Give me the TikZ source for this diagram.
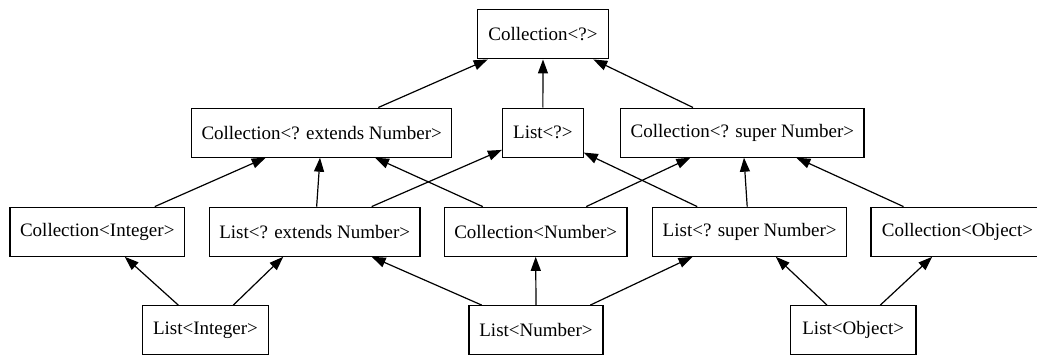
\documentclass[tikz,border=0pt]{standalone}
\usepackage{fontspec}
\setmainfont{Liberation Serif}
\usetikzlibrary{arrows.meta,calc}
\begin{document}
\begin{tikzpicture}[x=1pt,y=-1pt,
  box/.style={draw=black, line width=1.2pt, inner sep=0pt, minimum height=49pt,
    font=\fontsize{19}{23}\selectfont, text=black},
  edge/.style={draw=black, line width=1.2pt, -{Triangle[length=14pt,width=10pt]}}]
\useasboundingbox (0,0) rectangle (1037,356);
\clip (0,0) rectangle (1037,356);
% row 1
\node[box, minimum width=131pt] (cq) at (543,34.35) {Collection<?>};
% row 2
\node[box, minimum width=260pt] (cen) at (321.7,132.6) {Collection<? extends Number>};
\node[box, minimum width=80.7pt] (lq) at (542.85,132.6) {List<?>};
\node[box, minimum width=243.2pt] (csn) at (742.4,132.6) {Collection<? super Number>};
% row 3
\node[box, minimum width=174.5pt] (ci) at (97.25,231.7) {Collection<Integer>};
\node[box, minimum width=210.7pt] (len) at (314.65,231.7) {List<? extends Number>};
\node[box, minimum width=182.7pt] (cn) at (535.7,231.7) {Collection<Number>};
\node[box, minimum width=194pt] (lsn) at (749.7,231.7) {List<? super Number>};
\node[box, minimum width=173pt] (co) at (957.5,231.7) {Collection<Object>};
% row 4
\node[box, minimum width=125.6pt] (li) at (205.5,330.2) {List<Integer>};
\node[box, minimum width=134pt] (ln) at (536,330.2) {List<Number>};
\node[box, minimum width=125.7pt] (lo) at (853.2,330.2) {List<Object>};
% edges
\draw[edge] ($(cen.north)+(56.6,0)$) -- ($(cq.south)+(-55.3,0)$);
\draw[edge] (lq.north) -- (cq.south);
\draw[edge] ($(csn.north)+(-49.4,0)$) -- ($(cq.south)+(50.3,0)$);
\draw[edge] ($(ci.north)+(57.5,0)$) -- ($(cen.south)+(-56,0)$);
\draw[edge] ($(len.north)+(2,0)$) -- ($(cen.south)+(-1.7,0)$);
\draw[edge] ($(cn.north)+(-52.9,0)$) -- ($(cen.south)+(53.3,0)$);
\draw[edge] ($(len.north)+(57,0)$) -- ($(lq.west)+(0,17.3)$);
\draw[edge] ($(cn.north)+(50.5,0)$) -- ($(csn.south)+(-52,0)$);
\draw[edge] ($(lsn.north)+(-52.5,0)$) -- ($(lq.east)+(0,20)$);
\draw[edge] ($(lsn.north)+(-2.5,0)$) -- ($(csn.south)+(1.6,0)$);
\draw[edge] ($(co.north)+(-54,0)$) -- ($(csn.south)+(54,0)$);
\draw[edge] ($(li.north)+(-27.2,0)$) -- ($(ci.south)+(27.5,0)$);
\draw[edge] ($(li.north)+(27.8,0)$) -- ($(len.south)+(-31.4,0)$);
\draw[edge] ($(ln.north)+(-54.3,0)$) -- ($(len.south)+(57,0)$);
\draw[edge] (ln.north) -- (cn.south);
\draw[edge] ($(ln.north)+(54.3,0)$) -- ($(lsn.south)+(-57.2,0)$);
\draw[edge] ($(lo.north)+(-26.2,0)$) -- ($(lsn.south)+(26.1,0)$);
\draw[edge] ($(lo.north)+(27.1,0)$) -- ($(co.south)+(-25.3,0)$);
\end{tikzpicture}
\end{document}
